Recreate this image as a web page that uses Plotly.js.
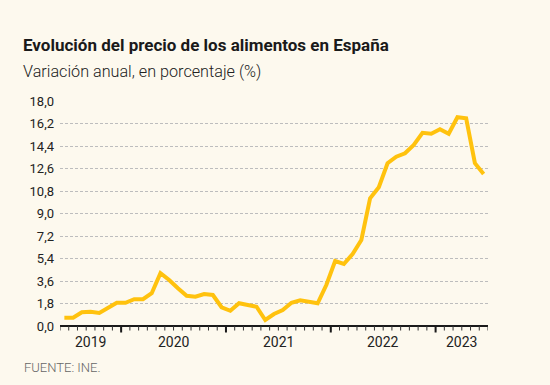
<!DOCTYPE html>
<html>
<head>
<meta charset="utf-8">
<script src="https://cdn.plot.ly/plotly-3.0.1.min.js"></script>
<style>
html,body{margin:0;padding:0;background:#fdf9ee;}
#chart{width:550px;height:385px;}
</style>
</head>
<body>
<div id="chart"></div>
<script>
// Monthly data, June 2019 – June 2023
const months = [
  '2019-06','2019-07','2019-08','2019-09','2019-10','2019-11','2019-12',
  '2020-01','2020-02','2020-03','2020-04','2020-05','2020-06','2020-07','2020-08','2020-09','2020-10','2020-11','2020-12',
  '2021-01','2021-02','2021-03','2021-04','2021-05','2021-06','2021-07','2021-08','2021-09','2021-10','2021-11','2021-12',
  '2022-01','2022-02','2022-03','2022-04','2022-05','2022-06','2022-07','2022-08','2022-09','2022-10','2022-11','2022-12',
  '2023-01','2023-02','2023-03','2023-04','2023-05','2023-06'
];
const values = [
  0.66, 0.66, 1.10, 1.14, 1.04, 1.42, 1.86,
  1.86, 2.14, 2.14, 2.62, 4.22, 3.68, 3.02, 2.42, 2.34, 2.56, 2.48, 1.50,
  1.22, 1.82, 1.68, 1.54, 0.48, 0.96, 1.28, 1.86, 2.06, 1.94, 1.82, 3.30,
  5.20, 4.96, 5.76, 6.88, 10.22, 11.10, 13.02, 13.54, 13.82, 14.48, 15.46, 15.38,
  15.74, 15.38, 16.70, 16.62, 13.02, 12.16
];
const yTickVals = [0, 1.8, 3.6, 5.4, 7.2, 9.0, 10.8, 12.6, 14.4, 16.2, 18.0];
const yTickText = ['0,0','1,8','3,6','5,4','7,2','9,0','10,8','12,6','14,4','16,2','18,0'];
const yearLabels = ['2019','2020','2021','2022','2023'];

// positions: each month sits at its index; month boundaries at index ± 0.5
const xIdx = months.map((m, i) => i);
const monthBounds = [];
for (let i = 0; i <= months.length; i++) monthBounds.push(i - 0.5);
const yearBounds = [];
months.forEach((m, i) => { if (m.endsWith('-01')) yearBounds.push(i - 0.5); });
const segEdges = [-0.5].concat(yearBounds, [months.length - 0.5]);
const yearCenters = yearLabels.map((y, k) => (segEdges[k] + segEdges[k + 1]) / 2);
const xRange = [-0.5, months.length - 0.5];

const W = 550, H = 385;
const pxPerUnit = 12.5;                 // vertical scale of the value axis
const belowZeroPx = 8;                  // room under the baseline for tick marks
const yRange = [-belowZeroPx / pxPerUnit, 18];
const M = {l: 60, r: 62, t: 101, b: 0};
M.b = H - M.t - Math.round((yRange[1] - yRange[0]) * pxPerUnit);
const plotH = H - M.t - M.b;
// paper y for a point "px" pixels below the baseline
const pxBelowZero = px => (belowZeroPx - px) / plotH;
const unitsBelowZero = px => -px / pxPerUnit;

const trace = {
  x: xIdx,
  y: values,
  text: months,
  type: 'scatter',
  mode: 'lines',
  line: {color: '#ffc20e', width: 4},
  hovertemplate: '%{text}: %{y:.1f}%<extra></extra>'
};

const yearAnnotations = yearLabels.map((lab, k) => ({
  text: lab,
  xref: 'x', yref: 'paper',
  x: yearCenters[k], xanchor: 'center',
  y: pxBelowZero(15.5), yanchor: 'middle',
  showarrow: false,
  font: {family: 'Roboto, Arial, sans-serif', size: 14, color: '#222'}
}));

// month / year tick marks under the baseline
const tickShapes = monthBounds.map(b => ({
  type: 'line', xref: 'x', yref: 'y',
  x0: b, x1: b, y0: 0, y1: unitsBelowZero(4.5),
  line: {color: '#333', width: 1}, layer: 'above'
})).concat(yearBounds.map(b => ({
  type: 'line', xref: 'x', yref: 'y',
  x0: b, x1: b, y0: 0, y1: unitsBelowZero(6.5),
  line: {color: '#1a1a1a', width: 2}, layer: 'above'
})));

const layout = {
  width: W,
  height: H,
  paper_bgcolor: '#fdf9ee',
  plot_bgcolor: '#fdf9ee',
  margin: M,
  showlegend: false,
  font: {family: 'Roboto, Arial, sans-serif', color: '#222'},
  title: {
    text: 'Evolución del precio de los alimentos en España',
    font: {family: 'Roboto, Arial, sans-serif', size: 17, weight: 700, color: '#1a1a1a'},
    xref: 'container', yref: 'container',
    x: 23 / W, xanchor: 'left',
    y: 1 - 45 / H, yanchor: 'middle'
  },
  annotations: [
    {
      text: 'Variación anual, en porcentaje (%)',
      xref: 'paper', yref: 'paper',
      x: (21 - M.l) / (W - M.l - M.r), xanchor: 'left',
      y: (plotH - (71 - M.t)) / plotH, yanchor: 'middle',
      showarrow: false,
      font: {family: 'Roboto, Arial, sans-serif', size: 16.2, weight: 300, color: '#222'}
    },
    {
      text: 'FUENTE: INE.',
      xref: 'paper', yref: 'paper',
      x: (22 - M.l) / (W - M.l - M.r), xanchor: 'left',
      y: pxBelowZero(41.5), yanchor: 'middle',
      showarrow: false,
      font: {family: 'Roboto, Arial, sans-serif', size: 13, weight: 300, color: '#666'}
    }
  ].concat(yearAnnotations),
  shapes: tickShapes,
  xaxis: {
    range: xRange,
    showgrid: false,
    zeroline: false,
    showline: false,
    ticks: '',
    showticklabels: false,
    fixedrange: true
  },
  yaxis: {
    range: yRange,
    tickmode: 'array',
    tickvals: yTickVals,
    ticktext: yTickText,
    tickfont: {size: 13, color: '#222'},
    showgrid: true,
    gridcolor: '#bdbdbd',
    gridwidth: 1,
    griddash: '3px,2px',
    zeroline: true,
    zerolinecolor: '#1a1a1a',
    zerolinewidth: 2,
    showline: false,
    ticks: '',
    ticklabelstandoff: 5,
    fixedrange: true
  }
};

Plotly.newPlot('chart', [trace], layout, {displayModeBar: false});
</script>
</body>
</html>
